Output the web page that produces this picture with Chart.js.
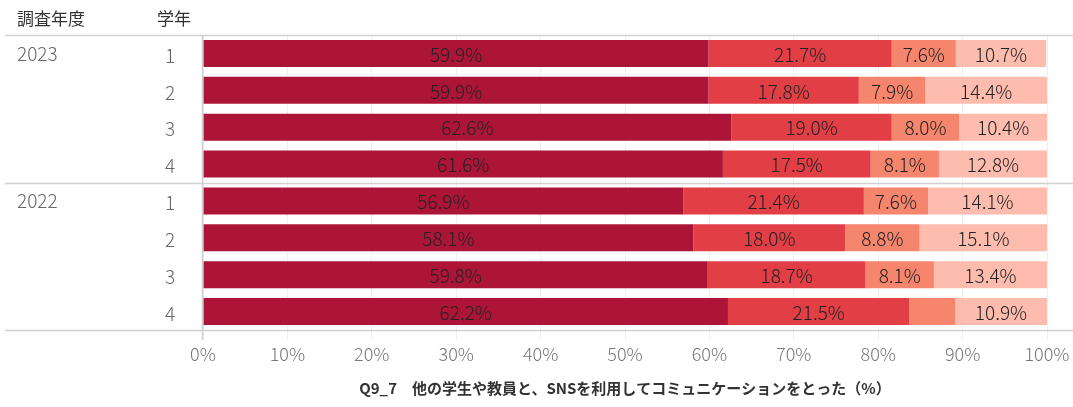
<!DOCTYPE html>
<html>
<head>
<meta charset="utf-8">
<script src="https://cdn.jsdelivr.net/npm/chart.js@4"></script>
<style>
  body { margin: 0; background: #fff; }
  #wrap { width: 1073px; height: 407px; position: relative; }
</style>
</head>
<body>
<div id="wrap"><canvas id="result_chart"></canvas></div>
<script>
// data
const years = ["2023", "2023", "2023", "2023", "2022", "2022", "2022", "2022"];
const grades = ["1", "2", "3", "4", "1", "2", "3", "4"];
const seg1 = [59.9, 59.9, 62.6, 61.6, 56.9, 58.1, 59.8, 62.2];
const seg2 = [21.7, 17.8, 19.0, 17.5, 21.4, 18.0, 18.7, 21.5];
const seg3 = [7.6, 7.9, 8.0, 8.1, 7.6, 8.8, 8.1, 5.4];
const seg4 = [10.7, 14.4, 10.4, 12.8, 14.1, 15.1, 13.4, 10.9];
const colors = ['#AD1538', '#E13E45', '#F6856E', '#FDBCAD'];

const FONT = "'Noto Sans CJK JP', 'Noto Sans', sans-serif";
const rowLabels = years.map((y, i) => y + "-" + grades[i]);

const tablePlugin = {
    id: 'tablePlugin',
    afterDraw(chart) {
        const ctx = chart.ctx;
        const area = chart.chartArea;
        const yScale = chart.scales.y;
        ctx.save();
        // header
        ctx.fillStyle = '#333';
        ctx.font = "17px " + FONT;
        ctx.textBaseline = 'middle';
        ctx.textAlign = 'left';
        ctx.fillText('調査年度', 17, 19);
        ctx.fillText('学年', 157, 19);

        // year + grade labels
        ctx.fillStyle = '#666';
        ctx.font = "300 19px " + FONT;
        rowLabels.forEach((lab, i) => {
            const y = yScale.getPixelForValue(i);
            if (i === 0 || years[i] !== years[i - 1]) {
                ctx.textAlign = 'left';
                ctx.fillText(years[i], 17, y);
            }
            ctx.textAlign = 'center';
            ctx.fillText(grades[i], 170, y + 2);
        });

        // horizontal separators
        ctx.strokeStyle = '#d0d0d0';
        ctx.lineWidth = 1.5;
        const seps = [area.top];
        for (let i = 1; i < years.length; i++) {
            if (years[i] !== years[i - 1]) {
                seps.push((yScale.getPixelForValue(i - 1) + yScale.getPixelForValue(i)) / 2);
            }
        }
        seps.push(area.bottom);
        seps.forEach(y => {
            ctx.beginPath();
            ctx.moveTo(5, Math.round(y) + 0.5);
            ctx.lineTo(chart.width, Math.round(y) + 0.5);
            ctx.stroke();
        });
        // vertical axis line
        ctx.beginPath();
        ctx.moveTo(area.left - 0.5, area.top);
        ctx.lineTo(area.left - 0.5, area.bottom + 10);
        ctx.stroke();

        // value labels
        ctx.fillStyle = '#222';
        ctx.font = "300 19px " + FONT;
        ctx.textAlign = 'center';
        chart.data.datasets.forEach((ds, di) => {
            const meta = chart.getDatasetMeta(di);
            meta.data.forEach((bar, i) => {
                const v = ds.data[i];
                if (v < 6) return;
                const x = (bar.x + bar.base) / 2;
                ctx.fillText(v.toFixed(1) + '%', x, bar.y + 1);
            });
        });
        ctx.restore();
    }
};

const config = {
    type: 'bar',
    data: {
        labels: rowLabels,
        datasets: [seg1, seg2, seg3, seg4].map((d, i) => ({
            label: 'seg' + (i + 1),
            data: d,
            backgroundColor: colors[i],
            borderWidth: 0,
            barPercentage: 0.73,
            categoryPercentage: 1.0
        }))
    },
    options: {
        indexAxis: 'y',
        responsive: true,
        maintainAspectRatio: false,
        animation: false,
        layout: { padding: { top: 35, right: 26, bottom: 0, left: 0 } },
        plugins: {
            legend: { display: false },
            tooltip: { enabled: false }
        },
        scales: {
            x: {
                stacked: true,
                min: 0,
                max: 100,
                ticks: {
                    stepSize: 10,
                    color: '#777',
                    font: { family: FONT, size: 18, weight: 300 },
                    padding: 3,
                    callback: v => v + '%'
                },
                grid: { color: '#efefef', tickLength: 10, tickColor: '#efefef' },
                border: { display: false },
                title: {
                    display: true,
                    text: 'Q9_7　他の学生や教員と、SNSを利用してコミュニケーションをとった（%）',
                    color: '#333',
                    font: { family: FONT, size: 15, weight: 'bold' },
                    padding: { top: 7, bottom: 10 }
                },
                afterFit(scale) { scale.height = 77; }
            },
            y: {
                stacked: true,
                ticks: { display: false },
                grid: { display: false },
                border: { display: false },
                afterFit(scale) { scale.width = 203; }
            }
        }
    },
    plugins: [tablePlugin]
};

new Chart(document.getElementById('result_chart'), config);
</script>
</body>
</html>
